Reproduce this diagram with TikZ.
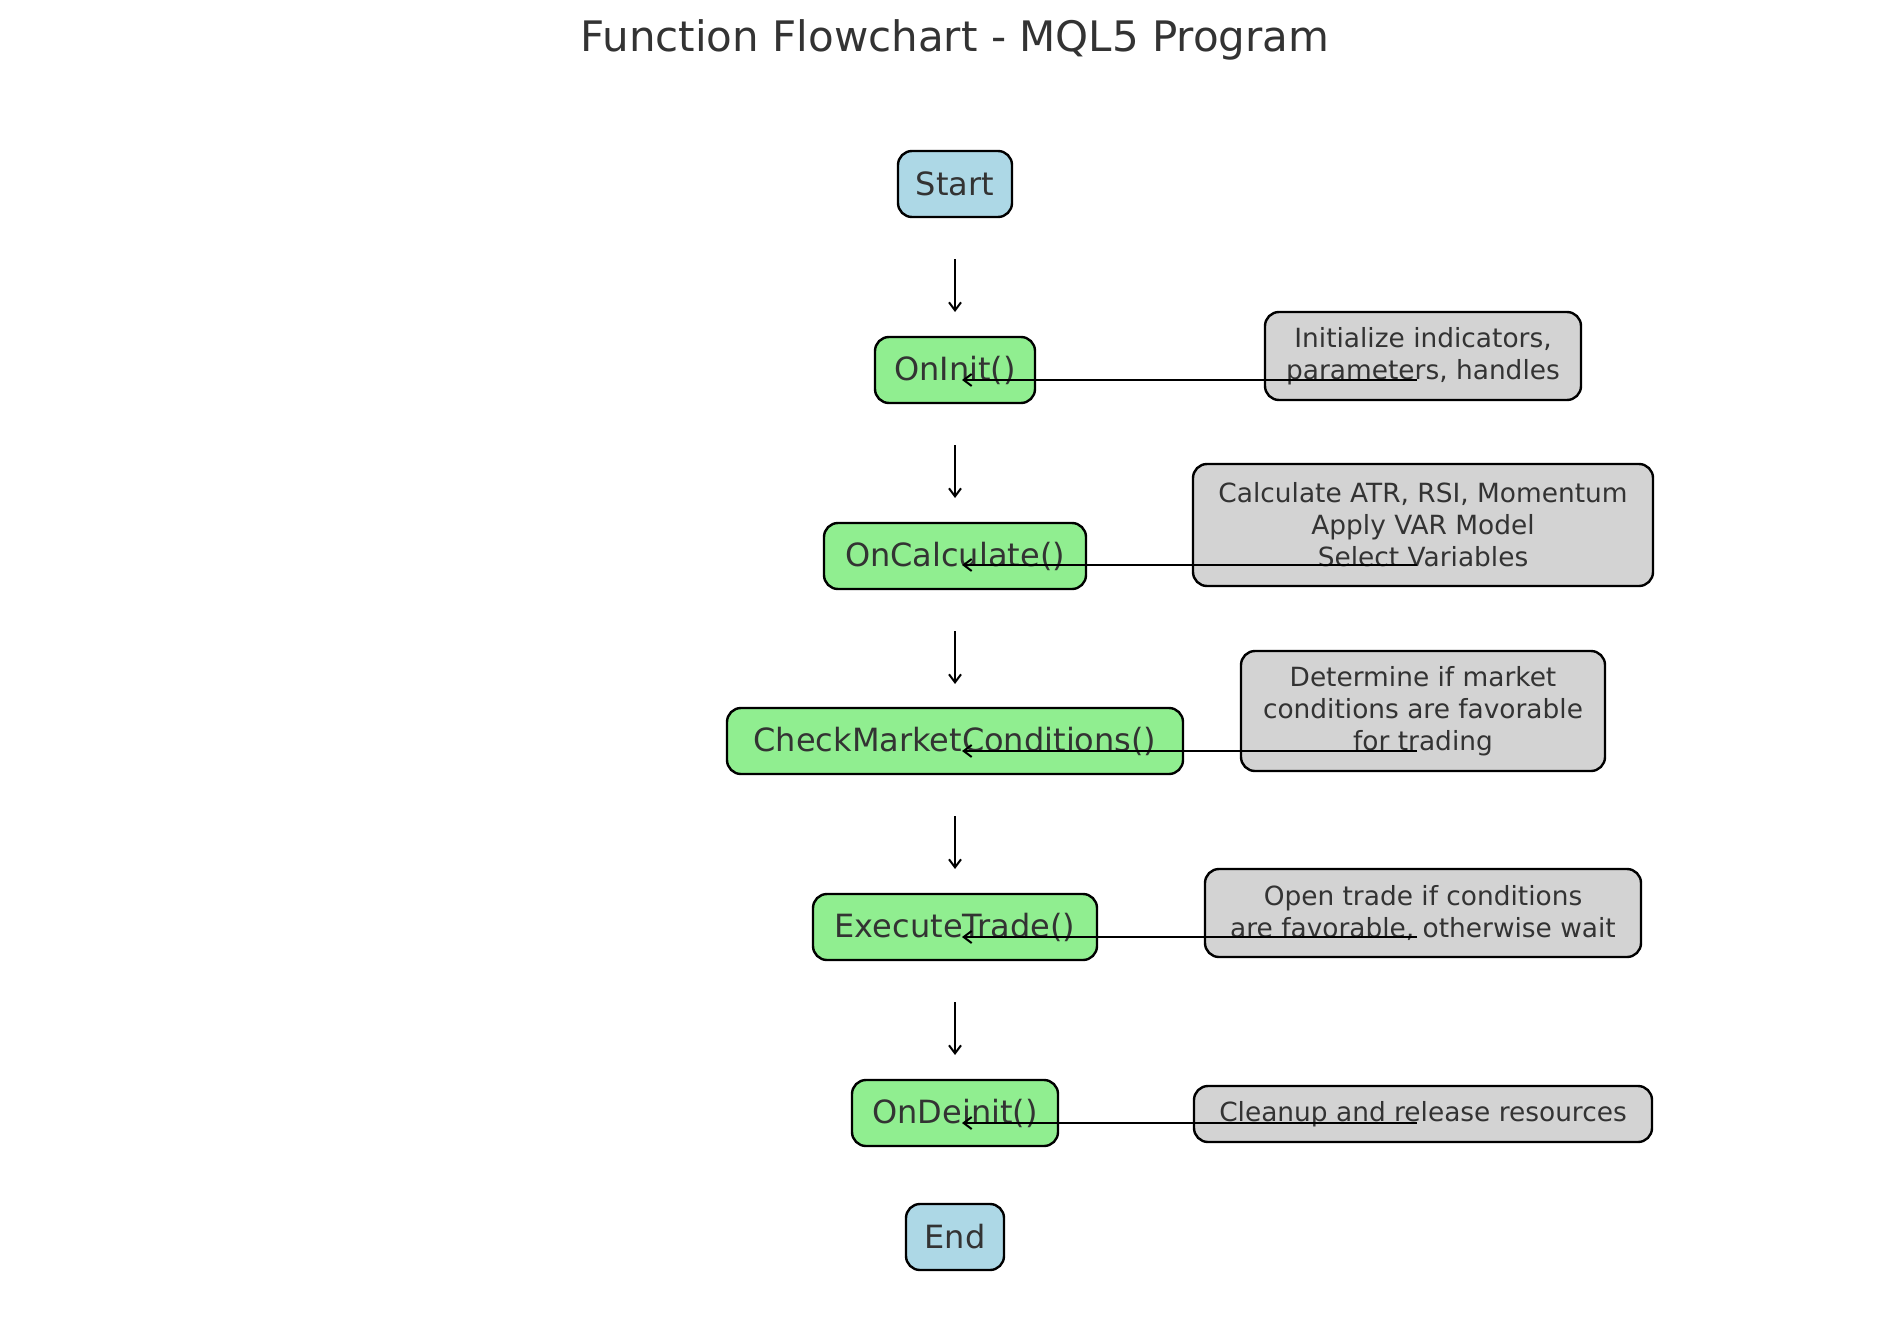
\documentclass[tikz,border=0pt]{standalone}
\usepackage{fontspec}
\usetikzlibrary{arrows.meta}
\setmainfont{DejaVu Sans}
\begin{document}
\begin{tikzpicture}[x=0.5pt,y=-0.5pt,
 box/.style={draw=black,line width=1.2pt,rounded corners=7pt,text=txt,inner sep=0pt,font=\fontsize{16}{19}\selectfont},
 fn/.style={box,fill=lgreen},
 se/.style={box,fill=lblue},
 note/.style={box,fill=lgray,align=center,font=\fontsize{13.2}{16}\selectfont},
 arr/.style={-{Straight Barb[length=4pt,width=6pt]},line width=1pt}]
\definecolor{lgreen}{HTML}{90EE90}
\definecolor{lblue}{HTML}{ADD8E6}
\definecolor{lgray}{HTML}{D3D3D3}
\definecolor{txt}{HTML}{333333}
\useasboundingbox (0,0) rectangle (1900,1322);
\node[text=txt,font=\fontsize{21}{25}\selectfont] (title) at (955,40) {Function Flowchart - MQL5 Program};
\node[se,minimum width=57pt,minimum height=33pt] (start) at (955,184) {Start};
\node[fn,minimum width=80pt,minimum height=33pt] (init) at (955,370) {OnInit()};
\node[fn,minimum width=131pt,minimum height=33pt] (calc) at (955,556) {OnCalculate()};
\node[fn,minimum width=228pt,minimum height=33pt] (check) at (955,741) {CheckMarketConditions()};
\node[fn,minimum width=142pt,minimum height=33pt] (exec) at (955,927) {ExecuteTrade()};
\node[fn,minimum width=103pt,minimum height=33pt] (deinit) at (955,1113) {OnDeinit()};
\node[se,minimum width=49pt,minimum height=33pt] (end) at (955,1237) {End};
\foreach \y [count=\i] in {259,445,631,816,1002}{
  \coordinate (a\i) at (955,\y); \coordinate (b\i) at (955,\y+53);
  \draw[arr] (a\i) -- (b\i);}
\node[note,minimum width=158pt,minimum height=44pt] (n1) at (1423,356) {Initialize indicators,\\parameters, handles};
\node[note,minimum width=230pt,minimum height=61pt] (n2) at (1423,525) {Calculate ATR, RSI, Momentum\\Apply VAR Model\\Select Variables};
\node[note,minimum width=182pt,minimum height=60pt] (n3) at (1423,711) {Determine if market\\conditions are favorable\\for trading};
\node[note,minimum width=218pt,minimum height=44pt] (n4) at (1423,913) {Open trade if conditions\\are favorable, otherwise wait};
\node[note,minimum width=229pt,minimum height=28pt] (n5) at (1423,1114) {Cleanup and release resources};
\foreach \y [count=\i] in {380,565,751,937,1123}{
  \coordinate (s\i) at (1417,\y); \coordinate (t\i) at (962,\y);
  \draw[arr] (s\i) -- (t\i);}
\end{tikzpicture}
\end{document}
